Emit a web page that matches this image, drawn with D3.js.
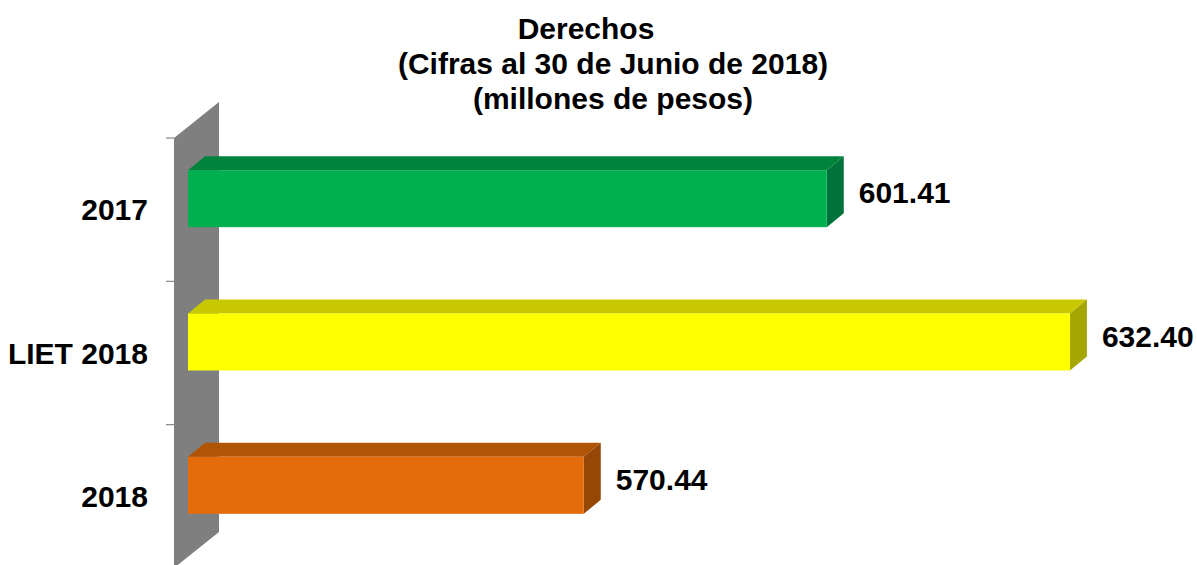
<!DOCTYPE html>
<html>
<head>
<meta charset="utf-8">
<script src="https://cdn.jsdelivr.net/npm/d3@7"></script>
<style>
  body { margin: 0; background: #fff; }
  svg { display: block; font-family: "Liberation Sans", Arial, sans-serif; font-weight: bold; }
</style>
</head>
<body>
<div id="chart"></div>
<script>
var categories = ["2017", "LIET 2018", "2018"];
var values = [601.41, 632.40, 570.44];
var valueLabels = ["601.41", "632.40", "570.44"];
var frontColors = ["#00b050", "#ffff00", "#e46c0a"];
var topColors = ["#00843c", "#c8c800", "#b05406"];
var sideColors = ["#00733a", "#a6a600", "#964605"];
var titleLines = ["Derechos", "(Cifras al 30 de Junio de 2018)", "(millones de pesos)"];

var w = 1197;
var h = 565;

// 3d offsets (back plane vs front plane)
var wallDx = 45, wallDy = -36;
var barDx = 17, barDy = -14;
var barH = 57;

var svg = d3.select("#chart").append("svg").attr("width", w).attr("height", h);

var xScale = d3.scaleLinear().domain([520, 650]).range([188, 1208]);
var yScale = d3.scaleBand().domain(categories).range([138, 568]);

var x0 = xScale.range()[0];
var wallX = x0 - 14;
var yTop = yScale.range()[0], yBot = yScale.range()[1];

// side wall
svg.append("polygon")
    .attr("points", [[wallX, yTop], [wallX + wallDx, yTop + wallDy], [wallX + wallDx, yBot + wallDy], [wallX, yBot]].join(" "))
    .attr("fill", "#7f7f7f");

// category ticks
var ticks = categories.map(function (c) { return yScale(c); }).concat([yBot]);
svg.selectAll(".tick").data(ticks).enter().append("line")
    .attr("x1", wallX - 8).attr("x2", wallX)
    .attr("y1", function (d) { return d; }).attr("y2", function (d) { return d; })
    .attr("stroke", "#868686").attr("stroke-width", 1.2);

// bars
var bars = svg.selectAll("g.bar").data(categories).enter().append("g").attr("class", "bar");

function barTop(c) {
    return yScale(c) + yScale.bandwidth() / 2 - 11 - barH / 2;
}

bars.append("polygon")
    .attr("points", function (c, i) {
        var y = barTop(c), x1 = xScale(values[i]);
        return [[x0, y], [x1, y], [x1 + barDx, y + barDy], [x0 + barDx, y + barDy]].join(" ");
    })
    .attr("fill", function (c, i) { return topColors[i]; });

bars.append("polygon")
    .attr("points", function (c, i) {
        var y = barTop(c), x1 = xScale(values[i]);
        return [[x1, y], [x1 + barDx, y + barDy], [x1 + barDx, y + barH + barDy], [x1, y + barH]].join(" ");
    })
    .attr("fill", function (c, i) { return sideColors[i]; });

bars.append("rect")
    .attr("x", x0)
    .attr("y", function (c) { return barTop(c); })
    .attr("width", function (c, i) { return xScale(values[i]) - x0; })
    .attr("height", barH)
    .attr("fill", function (c, i) { return frontColors[i]; });

// value labels
bars.append("text")
    .attr("x", function (c, i) { return xScale(values[i]) + barDx + 15; })
    .attr("y", function (c) { return barTop(c) + barH / 2 - 6; })
    .attr("dy", "0.35em")
    .attr("font-size", "30px")
    .attr("fill", "#000")
    .text(function (c, i) { return valueLabels[i]; });

// category labels
svg.selectAll(".cat").data(categories).enter().append("text")
    .attr("x", wallX - 26)
    .attr("y", function (c) { return yScale(c) + yScale.bandwidth() / 2; })
    .attr("dy", "0.35em")
    .attr("text-anchor", "end")
    .attr("font-size", "30px")
    .attr("fill", "#000")
    .text(function (c) { return c; });

// title
svg.selectAll(".title").data(titleLines).enter().append("text")
    .attr("x", function (d, i) { return i == 0 ? 586 : 613; })
    .attr("y", function (d, i) { return 39 + i * 35; })
    .attr("text-anchor", "middle")
    .attr("font-size", "30px")
    .attr("fill", "#000")
    .text(function (d) { return d; });
</script>
</body>
</html>
